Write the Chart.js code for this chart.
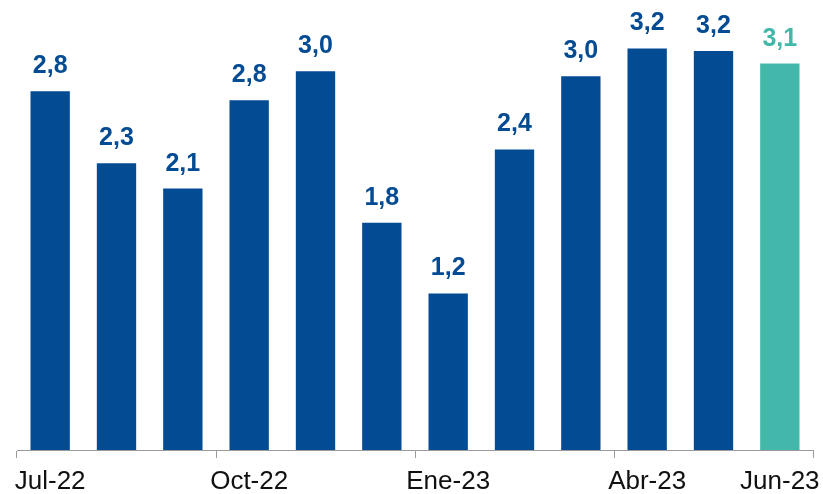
<!DOCTYPE html>
<html>
<head>
<meta charset="utf-8">
<script src="https://cdn.jsdelivr.net/npm/chart.js@4/dist/chart.umd.min.js"></script>
<style>
  html, body { margin: 0; padding: 0; background: #ffffff; }
  canvas { display: block; }
</style>
</head>
<body>
<canvas id="c" width="823" height="494"></canvas>
<script>
// ---- data ----
const categories = ["Jul-22","Ago-22","Sep-22","Oct-22","Nov-22","Dic-22","Ene-23","Feb-23","Mar-23","Abr-23","May-23","Jun-23"];
const values = [2.84, 2.27, 2.07, 2.77, 3.00, 1.80, 1.24, 2.38, 2.96, 3.18, 3.16, 3.06];
const shownTickLabels = ["Jul-22","Oct-22","Ene-23","Abr-23","Jun-23"];

// ---- styles ----
const BLUE = "#034b93";
const TEAL = "#43b8aa";
const lastIndex = categories.length - 1;
const barColors = categories.map((_, i) => i === lastIndex ? TEAL : BLUE);

const valueLabelPlugin = {
  id: "valueLabels",
  afterDatasetsDraw(chart) {
    const ctx = chart.ctx;
    const meta = chart.getDatasetMeta(0);
    ctx.save();
    ctx.font = "bold 25px 'Liberation Sans', Arial, sans-serif";
    ctx.textAlign = "center";
    ctx.textBaseline = "alphabetic";
    meta.data.forEach((bar, i) => {
      const v = chart.data.datasets[0].data[i];
      ctx.fillStyle = barColors[i];
      ctx.fillText(v.toFixed(1).replace(".", ","), bar.x, bar.y - 18);
    });
    ctx.restore();
  }
};

new Chart(document.getElementById("c"), {
  type: "bar",
  data: {
    labels: categories,
    datasets: [{
      data: values,
      backgroundColor: barColors,
      borderWidth: 0,
      categoryPercentage: 1.0,
      barPercentage: 0.593
    }]
  },
  options: {
    responsive: false,
    animation: false,
    devicePixelRatio: 1,
    layout: { padding: { left: 17, right: 10, top: 8, bottom: 0 } },
    plugins: { legend: { display: false }, tooltip: { enabled: false } },
    scales: {
      y: { display: false, min: 0, max: 3.5 },
      x: {
        offset: true,
        grid: {
          offset: true,
          drawOnChartArea: false,
          drawTicks: true,
          tickLength: 8,
          lineWidth: 1,
          color: (c) => (c.index === undefined || c.index % 3 === 0) ? "#9a9a9a" : "rgba(0,0,0,0)"
        },
        border: { display: true, color: "#9a9a9a", width: 1 },
        ticks: {
          autoSkip: false,
          maxRotation: 0,
          minRotation: 0,
          padding: 8,
          color: "#111111",
          font: { family: "'Liberation Sans', Arial, sans-serif", size: 26 },
          callback: function (value, index) {
            const lab = this.getLabelForValue(value);
            return shownTickLabels.includes(lab) ? lab : "";
          }
        },
        afterFit: (scale) => {
          scale.height = 44;
          scale.paddingLeft = 0;
          scale.paddingRight = 0;
        }
      }
    }
  },
  plugins: [valueLabelPlugin]
});
</script>
</body>
</html>
